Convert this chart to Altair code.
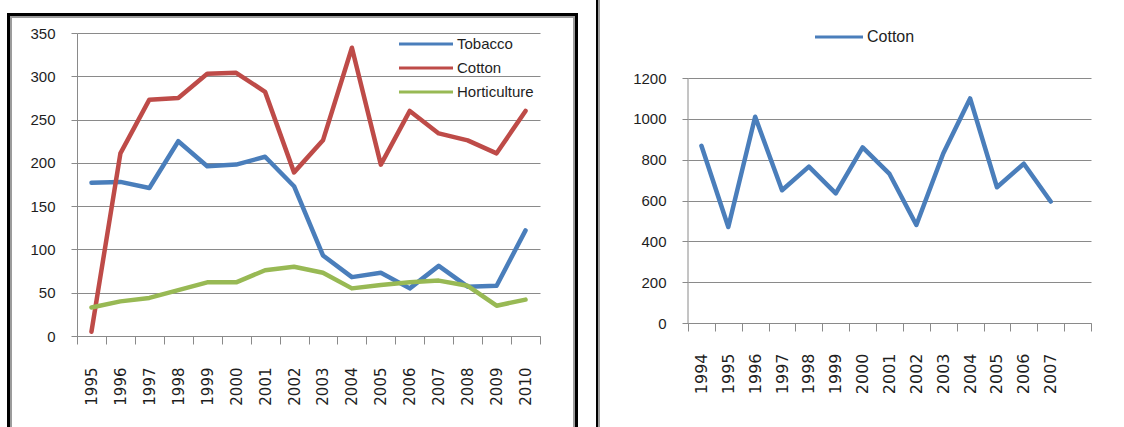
import altair as alt
import pandas as pd

# --- left panel: export values by crop ---
years = [str(y) for y in range(1995, 2011)]
tobacco = [177, 178, 171, 225, 196, 198, 207, 173, 93, 68, 73, 55, 81, 57, 58, 122]
cotton = [5, 211, 273, 275, 303, 304, 282, 189, 226, 333, 198, 260, 234, 226, 211, 260]
horticulture = [33, 40, 44, 53, 62, 62, 76, 80, 73, 55, 59, 62, 64, 58, 35, 42]
series_names = ["Tobacco", "Cotton", "Horticulture"]
series_colors = ["#4A7EBB", "#BE4B48", "#98B954"]
left_ticks = [0, 50, 100, 150, 200, 250, 300, 350]

# --- right panel: cotton ---
cotton_years = [str(y) for y in range(1994, 2008)]
cotton_output = [868, 470, 1010, 650, 766, 635, 860, 730, 480, 830, 1100, 665, 780, 595]
right_ticks = [0, 200, 400, 600, 800, 1000, 1200]
right_color = "#4A7EBB"
spare_slot = " "  # empty category slot after the last year

GRID = "#8a8a8a"
TEXT = "#1e1e1e"
LABEL_FONT = "Liberation Sans"
YEAR_FONT = "DejaVu Sans"

W1, H1 = 463, 303
W2 = 403
GRID2 = 245          # height of the gridded part of the right panel
H2 = 290             # right view shares its top edge with the left one
Y2_MAX = right_ticks[-1] * H2 / GRID2

left_df = pd.DataFrame({
    "year": years * 3,
    "series": [s for s, vals in zip(series_names, [tobacco, cotton, horticulture]) for _ in vals],
    "value": tobacco + cotton + horticulture,
})
right_df = pd.DataFrame({"year": cotton_years, "value": cotton_output})
one = pd.DataFrame({"k": [0]})


def block(x, x2, y, y2, color):
    return alt.Chart(one).mark_rect(color=color).encode(
        x=alt.value(x), x2=alt.value(x2), y=alt.value(y), y2=alt.value(y2)
    )


def legend_entry(name, color, x0, x1, y, size):
    d = pd.DataFrame({"series": [name]})
    line = alt.Chart(d).mark_rule(color=color, strokeWidth=3).encode(
        x=alt.value(x0), x2=alt.value(x1), y=alt.value(y)
    )
    label = alt.Chart(d).mark_text(
        align="left", baseline="middle", font=LABEL_FONT, fontSize=size, color=TEXT
    ).encode(x=alt.value(x1 + 4), y=alt.value(y), text="series:N")
    return line + label


def y_axis(values, domain=True):
    return alt.Axis(
        title=None, values=values, grid=True, gridColor=GRID, gridWidth=1, format="d",
        domain=domain, domainColor=GRID, tickColor=GRID, tickSize=6, labelPadding=16,
        labelFont=LABEL_FONT, labelFontSize=15, labelColor=TEXT, labelOverlap=False,
    )


def x_axis(size, pad):
    return alt.Axis(
        title=None, labelAngle=270, tickBand="extent", tickSize=8, labelPadding=pad,
        labelFont=YEAR_FONT, labelFontSize=size, labelColor=TEXT, labelOverlap=False,
        domainColor=GRID, tickColor=GRID, grid=False,
    )


# ---------- left chart ----------
left_lines = alt.Chart(left_df).mark_line(
    strokeWidth=4.5, strokeJoin="round", strokeCap="round"
).encode(
    x=alt.X("year:N", scale=alt.Scale(type="band", domain=years, paddingInner=0, paddingOuter=0),
            bandPosition=0.5, axis=x_axis(15, 23)),
    y=alt.Y("value:Q", scale=alt.Scale(domain=[0, 350], nice=False), axis=y_axis(left_ticks)),
    color=alt.Color("series:N", scale=alt.Scale(domain=series_names, range=series_colors), legend=None),
)

left_legend = alt.layer(*[
    legend_entry(n, c, 322, 376, y, 15)
    for n, c, y in zip(series_names, series_colors, [11, 35, 59])
])

# frame around the left panel and the divider beside it
left_frame = alt.layer(
    block(-70, -67, -20, 394, "black"),
    block(-70, 501, -20, -17, "black"),
    block(498, 501, -20, 394, "black"),
    block(-67, -65, -17, 394, "#9c9c9c"),
    block(-67, 498, -17, -15, "#9c9c9c"),
    block(496, 498, -17, 394, "#9c9c9c"),
    block(519, 521, -33, 394, "black"),
    block(521, 523, -33, 394, "#9c9c9c"),
)

left = alt.layer(left_frame, left_lines, left_legend).properties(width=W1, height=H1)

# ---------- right chart ----------
right_y = alt.Y("value:Q", scale=alt.Scale(domain=[0, Y2_MAX], nice=False),
                axis=y_axis(right_ticks, domain=False))

right_lines = alt.Chart(right_df).mark_line(
    strokeWidth=4.5, strokeJoin="round", strokeCap="round", color=right_color
).encode(
    x=alt.X("year:N", scale=alt.Scale(type="band", domain=cotton_years + [spare_slot],
                                      paddingInner=0, paddingOuter=0),
            bandPosition=0.5, axis=x_axis(16, 22)),
    y=right_y,
)

# vertical axis line spanning only the gridded range
right_axis_line = alt.Chart(one).mark_rule(color=GRID, strokeWidth=1).encode(
    x=alt.value(0), y=alt.datum(right_ticks[0]), y2=alt.datum(right_ticks[-1])
)

right_legend = legend_entry("Cotton", right_color, 127, 175, 4, 16)
right_spacer = block(-88, -87, 0, 1, "white")

right = alt.layer(right_spacer, right_axis_line, right_lines, right_legend).properties(width=W2, height=H2)

chart = alt.hconcat(left, right, spacing=0).properties(
    padding={"left": 7, "top": 0, "right": 0, "bottom": 0},
    background="white",
).configure_view(stroke=None)

chart.save("out.html", embed_options={"renderer": "svg", "actions": False})
